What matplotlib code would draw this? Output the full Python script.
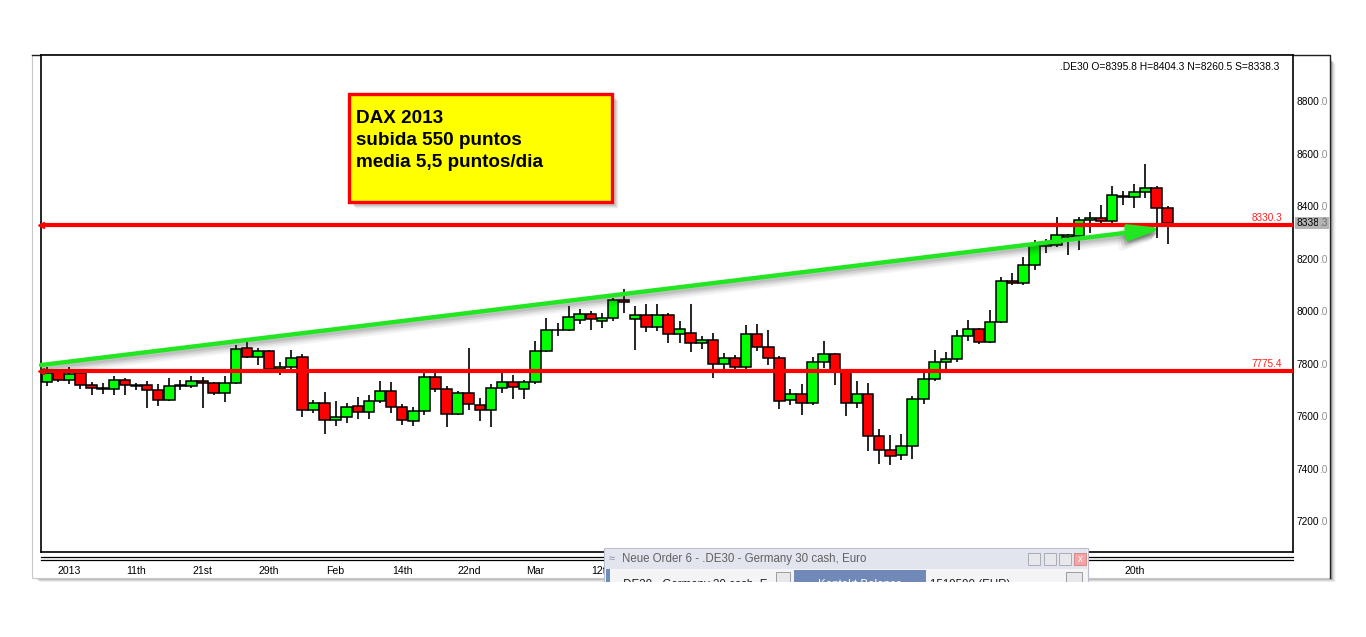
import matplotlib
matplotlib.use("Agg")
import matplotlib.pyplot as plt
import matplotlib.transforms as mtransforms
from matplotlib.patches import Rectangle
import numpy as np

plt.rcParams['font.family'] = ['Liberation Sans', 'DejaVu Sans']

# --- datos (velas diarias DAX) ---
opens = [7734, 7774, 7741, 7767, 7721, 7711, 7707, 7741, 7722, 7722,
         7703, 7665, 7719, 7719, 7738, 7728, 7692, 7730, 7862, 7829,
         7851, 7783, 7790, 7829, 7627, 7654, 7587, 7600, 7641, 7621,
         7662, 7700, 7639, 7585, 7623, 7753, 7707, 7612, 7692, 7646,
         7628, 7711, 7733, 7707, 7735, 7853, 7930, 7931, 7970, 7993,
         7965, 7978, 8046, 7975, 7989, 7944, 7989, 7917, 7921, 7883,
         7894, 7803, 7824, 7791, 7917, 7867, 7825, 7665, 7688, 7654,
         7810, 7841, 7770, 7654, 7688, 7526, 7475, 7456, 7490, 7667,
         7745, 7810, 7820, 7908, 7936, 7886, 7962, 8119, 8111, 8180,
         8253, 8256, 8287, 8290, 8351, 8357, 8347, 8439, 8440, 8458,
         8473, 8395.8]
highs = [7790, 7780, 7790, 7775, 7733, 7730, 7756, 7749, 7730, 7736,
         7724, 7749, 7743, 7756, 7752, 7733, 7758, 7876, 7885, 7863,
         7857, 7810, 7855, 7842, 7664, 7697, 7663, 7654, 7676, 7684,
         7739, 7733, 7651, 7639, 7766, 7783, 7717, 7701, 7863, 7673,
         7724, 7783, 7762, 7743, 7889, 7978, 7959, 8022, 8010, 8003,
         7997, 8054, 8086, 8022, 8029, 8032, 7997, 7965, 8032, 7908,
         7921, 7845, 7838, 7952, 7956, 7930, 7832, 7705, 7724, 7829,
         7889, 7844, 7781, 7739, 7730, 7556, 7533, 7536, 7682, 7766,
         7857, 7847, 7930, 7968, 7940, 8009, 8133, 8149, 8209, 8276,
         8279, 8361, 8299, 8363, 8380, 8406, 8479, 8460, 8486, 8562,
         8479, 8404.3]
lows = [7717, 7734, 7726, 7708, 7684, 7688, 7684, 7684, 7702, 7635,
        7642, 7660, 7702, 7711, 7635, 7684, 7656, 7724, 7825, 7797,
        7775, 7759, 7783, 7599, 7617, 7536, 7565, 7576, 7594, 7592,
        7653, 7614, 7569, 7565, 7608, 7697, 7561, 7606, 7626, 7585,
        7561, 7692, 7669, 7669, 7724, 7847, 7908, 7927, 7955, 7933,
        7940, 7965, 7997, 7855, 7923, 7927, 7883, 7883, 7847, 7860,
        7749, 7781, 7783, 7781, 7851, 7800, 7629, 7644, 7607, 7644,
        7787, 7721, 7603, 7635, 7470, 7422, 7417, 7436, 7441, 7649,
        7737, 7781, 7809, 7889, 7879, 7883, 7959, 8102, 8102, 8162,
        8223, 8248, 8216, 8236, 8302, 8340, 8340, 8407, 8397, 8435,
        8283, 8260.5]
closes = [7767, 7741, 7764, 7721, 7711, 7707, 7741, 7722, 7719, 7703,
          7665, 7719, 7722, 7738, 7728, 7692, 7730, 7860, 7829, 7851,
          7783, 7790, 7825, 7627, 7654, 7587, 7599, 7639, 7621, 7662,
          7700, 7639, 7589, 7623, 7753, 7707, 7612, 7692, 7648, 7628,
          7711, 7734, 7716, 7735, 7853, 7932, 7933, 7982, 7993, 7972,
          7978, 8046, 8039, 7989, 7944, 7989, 7917, 7935, 7883, 7894,
          7803, 7824, 7791, 7917, 7867, 7825, 7663, 7688, 7654, 7810,
          7841, 7770, 7654, 7688, 7526, 7475, 7452, 7490, 7667, 7745,
          7810, 7820, 7909, 7936, 7886, 7962, 8119, 8111, 8180, 8256,
          8258, 8294, 8292, 8351, 8357, 8347, 8446, 8443, 8458, 8473,
          8397, 8338.3]

date_pos = [2, 8, 14, 20, 26, 32, 38, 44, 50, 98]
date_labels = ['2013', '11th', '21st', '29th', 'Feb', '14th', '22nd', 'Mar', '12th', '20th']
price_ticks = [7200, 7400, 7600, 7800, 8000, 8200, 8400, 8600, 8800]

levels = [8330.3, 7775.4]
trend_start = (-0.56, 7798)
trend_end = (100.6, 8319)
last_price = 8338.3
header = ".DE30 O=8395.8 H=8404.3 N=8260.5 S=8338.3"
box_text = "DAX 2013\nsubida 550 puntos\nmedia 5,5 puntos/dia"

W, H = 1366, 637
fig = plt.figure(figsize=(W / 100, H / 100), dpi=100)
fig.patch.set_facecolor('white')

def fx(px):
    return px / W

def fy(py):
    return 1 - py / H

def rect(x0, y0, x1, y1, **kw):
    # rectangulo en pixeles de la figura
    fig.add_artist(Rectangle((fx(x0), fy(y1)), fx(x1) - fx(x0), fy(y0) - fy(y1),
                             transform=fig.transFigure, **kw))

# marco de la ventana del grafico con sombra
for k, a in enumerate([0.22, 0.16, 0.10, 0.06, 0.03]):
    rect(36 + k, 60 + k, 1332 + k, 579 + k, facecolor='#303030', alpha=a, edgecolor='none', zorder=-3)
rect(32, 55, 1330, 578, facecolor='white', edgecolor='#c8c8c8', lw=0.8, zorder=-2)
fig.add_artist(plt.Line2D([fx(32), fx(1330), fx(1330)], [fy(55), fy(55), fy(578)],
                          transform=fig.transFigure, color='#202020', lw=1.0, zorder=-1))

ax = fig.add_axes([fx(41), fy(552), fx(1293) - fx(41), fy(55) - fy(552)])
ax.set_facecolor('white')
x = np.arange(len(opens))
o = np.array(opens); c = np.array(closes); h = np.array(highs); l = np.array(lows)
up = c >= o

ax.vlines(x, l, h, color='black', lw=1.2, zorder=2)
ax.bar(x[up], (c - o)[up], bottom=o[up], width=0.95, color='#00ff00',
       edgecolor='black', lw=1.1, zorder=3)
ax.bar(x[~up], (o - c)[~up], bottom=c[~up], width=0.95, color='#ff0000',
       edgecolor='black', lw=1.1, zorder=3)

ax.set_xlim(-0.56, 112.3)
ax.set_ylim(7086, 8979)

# lineas horizontales rojas
for lv in levels:
    ax.axhline(lv, color='#ff0000', lw=3, zorder=4)
    ax.plot([-0.56], [lv], marker='<', color='#ff0000', ms=4, clip_on=False, zorder=5)
    ax.annotate(f"{lv:.1f}", xy=(1, lv), xycoords=('axes fraction', 'data'),
                xytext=(-8, 1.5), textcoords='offset points', ha='right', va='bottom',
                fontsize=7.2, color='#ff2020')

# flecha verde de tendencia con sombra
for k, a in enumerate([0.12, 0.10, 0.07, 0.05]):
    tr = mtransforms.offset_copy(ax.transData, fig=fig, x=1 + k * 0.6, y=-(3 + k * 1.2), units='dots')
    ax.annotate('', xy=trend_end, xytext=trend_start, xycoords=tr, textcoords=tr,
                arrowprops=dict(arrowstyle='-|>,head_length=1.6,head_width=0.38',
                                color='#303030', alpha=a, lw=3 + k, mutation_scale=12,
                                shrinkA=0, shrinkB=0), zorder=5)
ax.annotate('', xy=trend_end, xytext=trend_start,
            arrowprops=dict(arrowstyle='-|>,head_length=1.6,head_width=0.38',
                            color='#22e622', lw=3.2, mutation_scale=12,
                            shrinkA=0, shrinkB=0), zorder=6)

# ejes
for s in ['left', 'right', 'bottom', 'top']:
    ax.spines[s].set_linewidth(1.2)
ax.set_yticks([])
ax.set_xticks(date_pos)
ax.set_xticklabels(date_labels, fontsize=7.6)
ax.tick_params(axis='x', length=0, pad=10)

# doble linea bajo el eje de fechas
for yy in [-0.010, -0.016]:
    ax.plot([0, 1], [yy, yy], transform=ax.transAxes, color='black', lw=0.9, clip_on=False)

# etiquetas de precios a la derecha
ytr = mtransforms.offset_copy(ax.get_yaxis_transform(), fig=fig, x=2.5, y=0, units='points')
for p in price_ticks:
    t = ax.text(1, p, f"{p}", transform=ytr, fontsize=7.3, va='center', ha='left', clip_on=False)
    ax.annotate(".0", xy=(1, 0.5), xycoords=t, va='center', ha='left', fontsize=7.3,
                color='#909090', annotation_clip=False)

t = ax.text(1, last_price, f"{int(last_price)}", transform=ytr, fontsize=7.3, va='center', ha='left',
            clip_on=False, zorder=8, bbox=dict(boxstyle='square,pad=0.12', fc='#b4b4b4', ec='none'))
ax.annotate("." + f"{last_price:.1f}".split('.')[1], xy=(1, 0.5), xycoords=t, va='center',
            ha='left', fontsize=7.3, color='#707070', annotation_clip=False, zorder=8,
            bbox=dict(boxstyle='square,pad=0.12', fc='#b4b4b4', ec='none'))

ax.text(0.989, 0.985, header, transform=ax.transAxes, fontsize=7.4, ha='right', va='top')

# cuadro amarillo
for k, a in enumerate([0.12, 0.09, 0.06, 0.03]):
    rect(351 + k + 2, 96 + k + 2, 614 + k + 2, 204 + k + 2, facecolor='#303030', alpha=a,
         edgecolor='none', zorder=9)
rect(349, 94, 612, 202, facecolor='#ffff00', edgecolor='#ff0000', lw=2.4, zorder=10)
fig.text(fx(356), fy(110), box_text, fontsize=13.6, fontweight='bold', va='top', ha='left',
         linespacing=1.4, zorder=11)

# ventana "Neue Order" superpuesta
rect(604, 548, 1088, 590, facecolor='#f4f4f6', edgecolor='#b8bccb', lw=0.8, zorder=20)
rect(605, 549, 1087, 569, facecolor='#e3e5ee', edgecolor='none', zorder=21)
fig.text(fx(622), fy(559), "Neue Order 6 - .DE30 - Germany 30 cash, Euro", fontsize=8.3,
         color='#606060', va='center', ha='left', zorder=22)
fig.text(fx(612), fy(559), "\u2248", fontsize=8, color='#8090b0', va='center', ha='center', zorder=22)
for bx in [1028, 1044, 1059]:
    rect(bx, 553, bx + 12, 565, facecolor='#e8e8ec', edgecolor='#a0a4b0', lw=0.6, zorder=22)
rect(1074, 553, 1086, 565, facecolor='#f3a4a4', edgecolor='#d08080', lw=0.6, zorder=22)
fig.text(fx(1080), fy(559), "x", fontsize=7, color='white', va='center', ha='center', zorder=23)
rect(606, 569, 610, 590, facecolor='#6f8cc0', edgecolor='none', zorder=22)
fig.text(fx(620), fy(585), ".DE30 - Germany 30 cash, E", fontsize=8.3, color='#202020',
         va='center', ha='left', zorder=22)
rect(776, 572, 790, 590, facecolor='#e8e8ec', edgecolor='#909090', lw=0.6, zorder=22)
rect(794, 570, 926, 590, facecolor='#7089b8', edgecolor='none', zorder=22)
fig.text(fx(860), fy(585), "Kontakt Balance", fontsize=8.3, color='white',
         va='center', ha='center', zorder=23)
fig.text(fx(930), fy(585), "1519590 (EUR)", fontsize=8.3, color='#202020',
         va='center', ha='left', zorder=22)
rect(1066, 572, 1082, 590, facecolor='#e8e8ec', edgecolor='#909090', lw=0.6, zorder=22)
# recorte inferior blanco
rect(0, 582, W, H, facecolor='white', edgecolor='none', zorder=30)

fig.savefig("out.png", dpi=100)
